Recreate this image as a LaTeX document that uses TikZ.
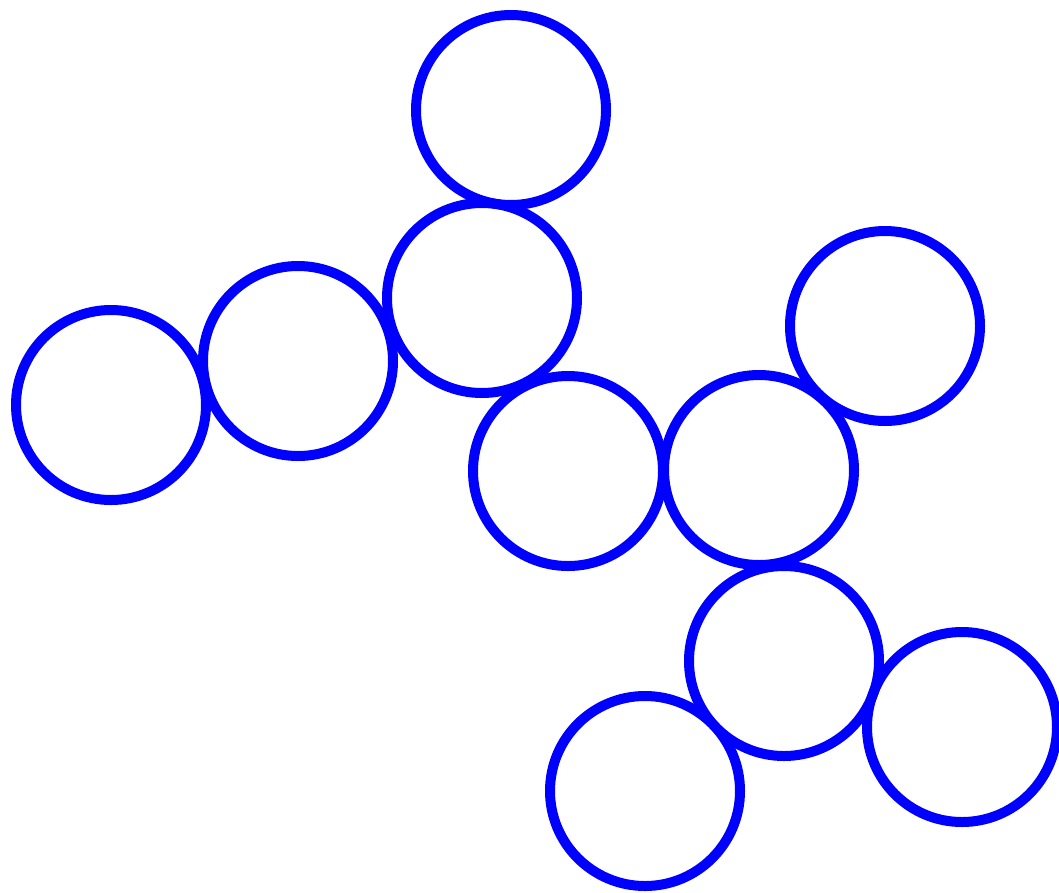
\documentclass[tikz,border=0pt]{standalone}
\begin{document}
\begin{tikzpicture}[x=1pt,y=-1pt,
  ring/.style={circle,draw=blue,line width=10pt,minimum size=190pt,inner sep=0pt}]
\useasboundingbox (0,0) rectangle (1059,892);
\node[ring] (c1) at (511,110) {};
\node[ring] (c2) at (482,298) {};
\node[ring] (c3) at (298,361) {};
\node[ring] (c4) at (111,405) {};
\node[ring] (c5) at (568,471) {};
\node[ring] (c6) at (759,470) {};
\node[ring] (c7) at (885,326) {};
\node[ring] (c8) at (784,661) {};
\node[ring] (c9) at (962,727) {};
\node[ring] (c10) at (645,791) {};
\end{tikzpicture}
\end{document}
